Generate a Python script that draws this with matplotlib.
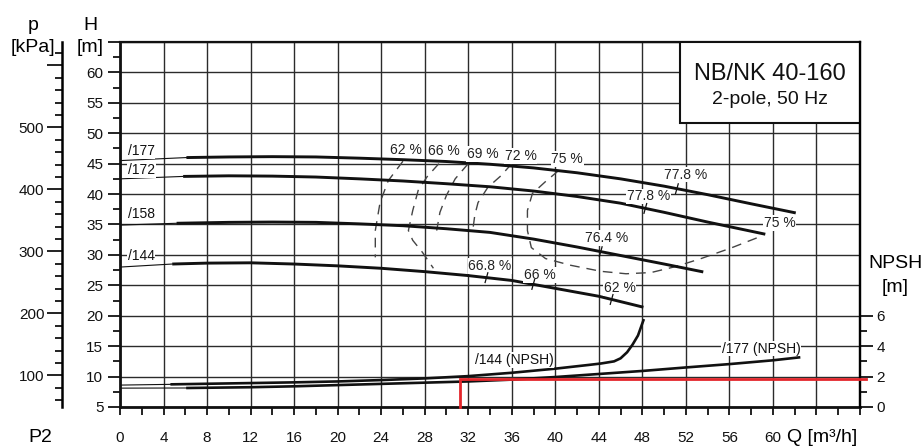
"""Pump performance chart NB/NK 40-160 (2-pole, 50 Hz)."""

import matplotlib

matplotlib.use("Agg")

import matplotlib.pyplot as plt  # noqa: E402
import numpy as np  # noqa: E402
from matplotlib.patches import Rectangle  # noqa: E402

plt.rcParams["font.family"] = ["Liberation Sans", "DejaVu Sans"]

# --- Head curves: Q [m3/h] -> H [m]; thin part from Q=0, thick = working range
impellers = ["/177", "/172", "/158", "/144"]
q_thin = {
    "/177": [0, 6.1], "/172": [0, 5.8], "/158": [0, 5.2], "/144": [0, 4.8],
}
h_thin = {
    "/177": [45.5, 46.0], "/172": [42.5, 42.9], "/158": [34.9, 35.2], "/144": [28.0, 28.5],
}
q_head = {
    "/177": [6.1, 10, 14, 18, 22, 26, 30, 34, 38, 42, 46, 50, 54, 58, 62.1],
    "/172": [5.8, 10, 14, 18, 22, 26, 30, 34, 38, 42, 46, 50, 54, 59.3],
    "/158": [5.2, 10, 14, 18, 22, 26, 30, 34, 38, 42, 46, 50, 53.6],
    "/144": [4.8, 8, 12, 16, 20, 24, 28, 32, 36, 40, 44, 48.1],
}
h_head = {
    "/177": [46.0, 46.1, 46.15, 46.1, 45.9, 45.65, 45.35, 44.9, 44.3, 43.5, 42.5,
             41.3, 39.9, 38.4, 36.9],
    "/172": [42.9, 43.0, 42.95, 42.8, 42.5, 42.15, 41.7, 41.2, 40.5, 39.6, 38.5,
             37.0, 35.4, 33.4],
    "/158": [35.2, 35.35, 35.4, 35.35, 35.1, 34.8, 34.3, 33.7, 32.6, 31.3, 29.9,
             28.5, 27.2],
    "/144": [28.5, 28.65, 28.7, 28.5, 28.2, 27.8, 27.25, 26.6, 25.8, 24.5, 23.2, 21.4],
}
impeller_label_h = [47.0, 44.0, 36.75, 29.9]

# --- NPSH curves: Q [m3/h] -> NPSH [m]
npsh_names = ["/144 (NPSH)", "/177 (NPSH)"]
npsh_q_thin = [[0, 4.75], [0, 6.2]]
npsh_thin = [[1.44, 1.49], [1.24, 1.25]]
npsh_q = [
    [4.75, 10, 16, 20, 24, 28, 32, 36, 40, 43, 44.2, 45.4, 46.0, 46.6, 47.1, 47.6, 48.1],
    [6.2, 12, 16, 20, 24, 28, 32, 36, 40, 44, 48, 52, 56, 60, 62.4],
]
npsh_vals = [
    [1.49, 1.55, 1.62, 1.68, 1.77, 1.88, 2.03, 2.25, 2.52, 2.76, 2.86, 3.0, 3.2, 3.6,
     4.1, 4.7, 5.7],
    [1.25, 1.3, 1.36, 1.44, 1.52, 1.6, 1.68, 1.8, 1.97, 2.17, 2.37, 2.6, 2.82, 3.07, 3.26],
]
npsh_label_q = [36.2, 58.9]
npsh_label_val = [3.08, 3.84]

# --- Iso-efficiency lines (dashed)
iso_q = [
    [26.0, 24.65, 23.9, 23.46, 23.46],
    [29.3, 28.2, 27.4, 26.9, 26.5, 26.9, 27.8, 28.8],
    [32.0, 30.8, 30.0, 29.4, 29.1],
    [36.0, 35.0, 33.8, 32.9, 32.6, 32.4],
    [40.3, 39.1, 37.9, 37.44, 37.44, 37.8, 39.1, 41.4, 44.2, 46.5, 48.8, 51.1, 53.4,
     56.1, 59.1],
]
iso_h = [
    [45.4, 42.2, 38.65, 34.0, 29.6],
    [45.0, 42.8, 40.6, 37.3, 34.0, 32.4, 30.4, 27.8],
    [45.0, 42.5, 39.8, 37.0, 34.0],
    [45.0, 43.0, 41.1, 38.6, 36.5, 33.8],
    [43.85, 42.05, 40.1, 37.3, 34.0, 31.2, 29.4, 28.3, 27.3, 26.9, 27.1, 28.1, 29.4,
     31.1, 33.2],
]

# --- Efficiency labels
eff_text = ["62 %", "66 %", "69 %", "72 %", "75 %", "77.8 %", "77.8 %", "76.4 %",
            "66.8 %", "66 %", "62 %", "75 %"]
eff_q = [26.3, 29.8, 33.3, 36.8, 41.1, 52.0, 48.6, 44.7, 34.0, 38.6, 45.9, 60.6]
eff_h = [47.3, 47.0, 46.6, 46.3, 45.8, 43.2, 39.6, 32.8, 28.2, 26.75, 24.6, 35.2]

# Efficiency marks on the head curves
mark_curve = ["/177", "/172", "/158", "/144", "/144", "/144"]
mark_q = [51.2, 48.3, 44.2, 33.7, 38.0, 45.2]

# Duty point (red)
duty_q = [31.2, 31.2, 68.6]
duty_npsh = [0, 1.84, 1.84]

x_ticks = np.arange(0, 69, 4)
x_tick_labels = [str(v) if v <= 60 else "" for v in x_ticks]
h_ticks = np.arange(5, 66, 5)
h_tick_labels = [str(v) if v <= 60 else "" for v in h_ticks]
p_ticks = [100, 200, 300, 400, 500, 600]
p_tick_labels = ["100", "200", "300", "400", "500", ""]
npsh_ticks = [0, 2, 4, 6]

INK = "#111111"
GRID = "#2b2b2b"
WHITE_BOX = dict(fc="white", ec="none", pad=0.6)

fig = plt.figure(figsize=(9.24, 4.47), dpi=100)
ax = fig.add_axes([0.1299, 0.0895, 0.8008, 0.8166])
ax.set_xlim(0, 68)
ax.set_ylim(5, 65)

ax.set_xticks(x_ticks, labels=x_tick_labels)
ax.set_xticks(np.arange(0, 69, 2), minor=True)
ax.set_yticks(h_ticks, labels=h_tick_labels)
ax.set_yticks(np.arange(7.5, 65, 5), minor=True)
ax.tick_params(which="both", direction="out", labelsize=11, colors=INK, width=1.3)
ax.tick_params(axis="y", which="major", length=9, pad=3)
ax.tick_params(axis="y", which="minor", length=5)
ax.tick_params(axis="x", which="both", length=6, pad=11)
ax.grid(True, which="major", color=GRID, lw=1.0, zorder=0)
ax.set_axisbelow(True)
for side, lw in [("left", 2.0), ("bottom", 2.0), ("top", 1.6), ("right", 1.6)]:
    ax.spines[side].set_linewidth(lw)
    ax.spines[side].set_color(INK)

# Head curves
for name, lab_h in zip(impellers, impeller_label_h):
    ax.plot(q_thin[name], h_thin[name], color=INK, lw=0.8, zorder=3)
    ax.plot(q_head[name], h_head[name], color=INK, lw=2.1, zorder=3,
            solid_capstyle="butt")
    ax.text(0.7, lab_h, name, fontsize=10, ha="left", va="center", color=INK,
            bbox=WHITE_BOX, zorder=4)

# Iso-efficiency dashed lines
for qs, hs in zip(iso_q, iso_h):
    ax.plot(qs, hs, color="#444444", lw=1.0, ls=(0, (7, 5)), zorder=2)

for txt, q, h in zip(eff_text, eff_q, eff_h):
    ax.text(q, h, txt, fontsize=10, ha="center", va="center", color="#222222",
            bbox=WHITE_BOX, zorder=4)

for name, q in zip(mark_curve, mark_q):
    h = np.interp(q, q_head[name], h_head[name])
    ax.plot([q - 0.15, q + 0.1], [h - 0.8, h + 0.8], color=INK, lw=0.9, zorder=4)

# Title box
ax.add_patch(Rectangle((0.757, 0.778), 0.243, 0.222, transform=ax.transAxes,
                       fc="white", ec=INK, lw=1.5, zorder=5))
ax.text(0.878, 0.912, "NB/NK 40-160", transform=ax.transAxes, fontsize=17,
        ha="center", va="center", color=INK, zorder=6)
ax.text(0.878, 0.842, "2-pole, 50 Hz", transform=ax.transAxes, fontsize=14,
        ha="center", va="center", color=INK, zorder=6)

# NPSH axis on the right
ax_n = ax.twinx()
ax_n.set_ylim(0, 24)
ax_n.set_yticks(npsh_ticks)
ax_n.set_yticks([1, 3, 5], minor=True)
ax_n.tick_params(which="both", direction="out", labelsize=11, colors=INK, width=1.3)
ax_n.tick_params(which="major", length=9, pad=3)
ax_n.tick_params(which="minor", length=5)
for side in ["left", "top", "bottom"]:
    ax_n.spines[side].set_visible(False)
ax_n.spines["right"].set_linewidth(1.6)

for qt, nt, qs, ns in zip(npsh_q_thin, npsh_thin, npsh_q, npsh_vals):
    ax_n.plot(qt, nt, color=INK, lw=0.8, zorder=3)
    ax_n.plot(qs, ns, color=INK, lw=1.9, zorder=3)
for txt, q, n in zip(npsh_names, npsh_label_q, npsh_label_val):
    ax_n.text(q, n, txt, fontsize=10, ha="center", va="center", color=INK,
              bbox=WHITE_BOX, zorder=4)

ax_n.plot(duty_q, duty_npsh, color="#e3262b", lw=2.0, clip_on=False, zorder=6,
          solid_joinstyle="miter")

# Pressure axis on the far left
ax_p = ax.secondary_yaxis(-0.078, functions=(lambda h: h * 9.81, lambda p: p / 9.81))
ax_p.set_yticks(p_ticks, labels=p_tick_labels)
ax_p.set_yticks(np.arange(60, 640, 20), minor=True)
ax_p.tick_params(which="both", direction="out", labelsize=11, colors=INK, width=1.3)
ax_p.tick_params(which="major", length=11, pad=2)
ax_p.tick_params(which="minor", length=5)
ax_p.spines["left"].set_linewidth(1.8)

# Axis captions
fig.text(90 / 924, 1 - 25 / 447, "H", fontsize=14, ha="center", va="center")
fig.text(90 / 924, 1 - 48 / 447, "[m]", fontsize=14, ha="center", va="center")
fig.text(33 / 924, 1 - 25 / 447, "p", fontsize=14, ha="center", va="center")
fig.text(33 / 924, 1 - 48 / 447, "[kPa]", fontsize=14, ha="center", va="center")
fig.text(895 / 924, 1 - 263 / 447, "NPSH", fontsize=14, ha="center", va="center")
fig.text(895 / 924, 1 - 287 / 447, "[m]", fontsize=14, ha="center", va="center")
fig.text(822 / 924, 1 - 437 / 447, "Q [m\u00b3/h]", fontsize=14, ha="center",
         va="center")
fig.text(40 / 924, 1 - 438 / 447, "P2", fontsize=14, ha="center", va="center")

fig.savefig("out.png", dpi=100)
plt.close(fig)
